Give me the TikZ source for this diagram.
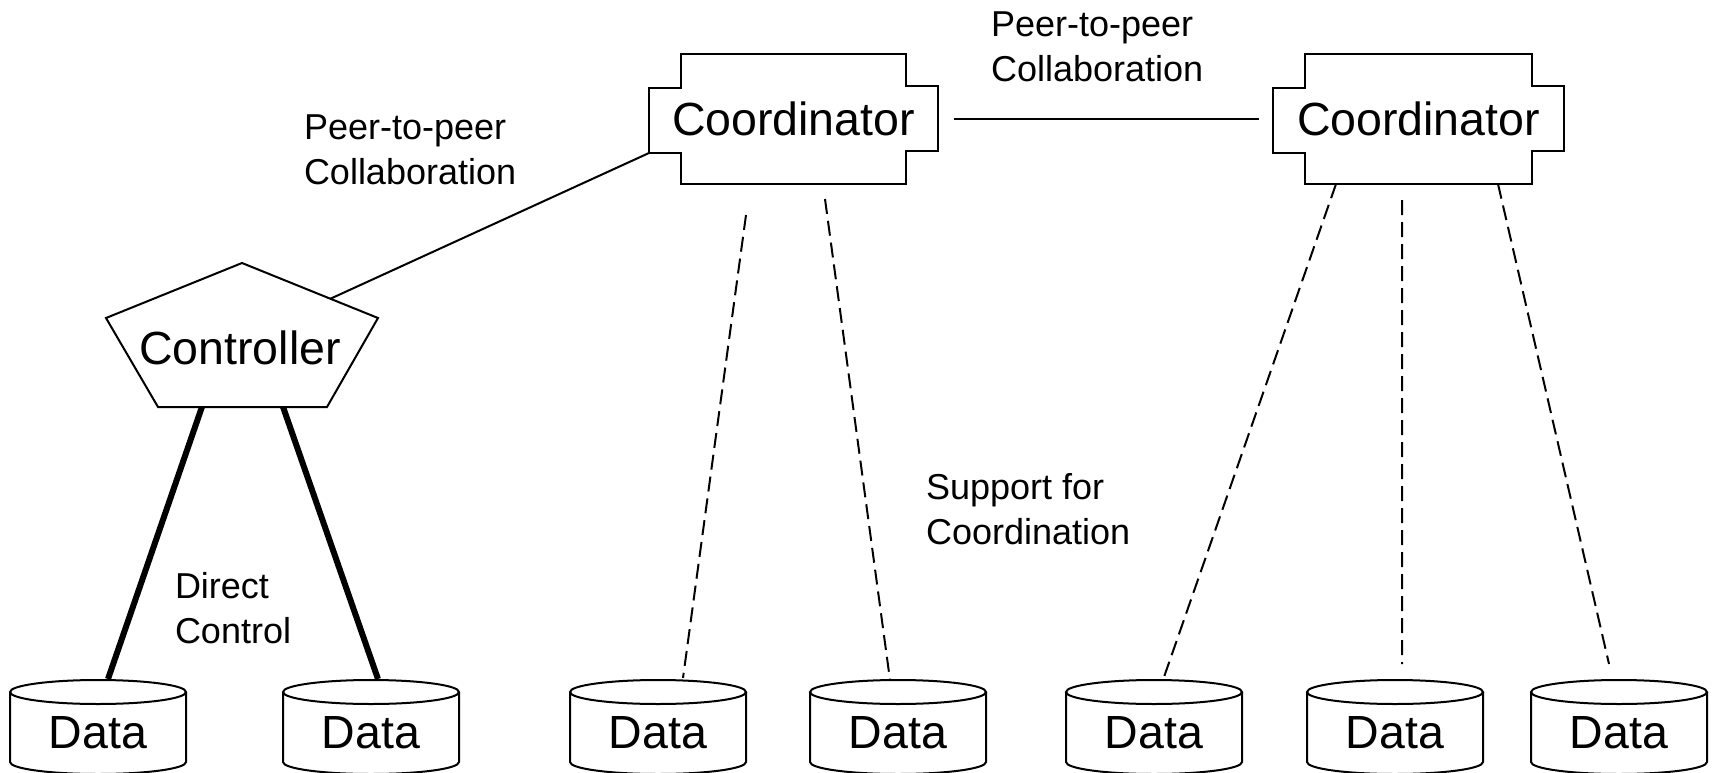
\documentclass[tikz,border=0pt]{standalone}
\usepackage{fontspec}
\setmainfont{Liberation Sans}
\usetikzlibrary{calc}

\begin{document}
\begin{tikzpicture}[x=1bp,y=-1bp,line width=2bp,
  big/.style={inner sep=0pt,font=\fontsize{46.5bp}{50bp}\selectfont},
  note/.style={inner sep=0pt,anchor=north west,align=left,font=\fontsize{36bp}{45bp}\selectfont},
  coordbox/.style={big,minimum width=287bp,minimum height=128bp},
  coordlink/.style={dash pattern=on 15bp off 7bp},
  ctrllink/.style={line width=6bp}]

\useasboundingbox (0,0) rectangle (1713,773);

\node[coordbox] (cA) at (793.5,119) {Coordinator};
\node[coordbox,minimum width=289bp] (cB) at (1418.5,119) {Coordinator};
\foreach \n in {cA,cB}
  \draw ([shift={(32,0)}]\n.north west) -- ([shift={(-32,0)}]\n.north east) -- ++(0,32) -- ++(32,0)
    -- ++(0,65) -- ++(-32,0) -- ([shift={(-32,0)}]\n.south east) -- ([shift={(32,0)}]\n.south west)
    -- ++(0,-31) -- ++(-32,0) coordinate (\n-corner) -- ++(0,-65) -- ++(32,0) -- cycle;

\coordinate (pT) at (242,263);
\coordinate (pR) at (378,318);
\coordinate (pBR) at (327,407);
\coordinate (pBL) at (158,407);
\coordinate (pL) at (106,318);
\draw (pT) -- (pR) -- (pBR) -- (pBL) -- (pL) -- cycle;
\node[big] (ctrl) at (240,348) {Controller};

\foreach \x/\n in {98/dA,371/dB,658/dC,898/dD,1154/dE,1395/dF,1619/dG}{
  \draw (\x-88,692) -- (\x-88,762) arc[start angle=180,end angle=0,x radius=88,y radius=12] -- (\x+88,692);
  \draw (\x,692) ellipse[x radius=88,y radius=12];
  \node[big] (\n) at (\x,733) {Data};
  \coordinate (\n-top) at (\x,680);
}

\draw (cA-corner) -- ($(pT)!0.65!(pR)$);
\draw[shorten <=16bp,shorten >=14bp] (cA.east) -- (cB.west);

\draw[ctrllink] ($(pBL)!0.26!(pBR)$) -- ([shift={(10,-1)}]dA-top);
\draw[ctrllink] ($(pBL)!0.74!(pBR)$) -- ([shift={(7,-1)}]dB-top);

\draw[coordlink] ([shift={(97,31)}]cA.south west) -- ([shift={(25,-2)}]dC-top);
\draw[coordlink] ([shift={(176,15)}]cA.south west) -- ([shift={(-8,0)}]dD-top);
\draw[coordlink] ([shift={(63,0)}]cB.south west) -- ([shift={(10,-3)}]dE-top);
\draw[coordlink] ([shift={(129,16)}]cB.south west) -- ([shift={(7,-16)}]dF-top);
\draw[coordlink] ([shift={(225,0)}]cB.south west) -- ([shift={(-10,-16)}]dG-top);

\node[note] (peerA) at (303,114) {Peer-to-peer\\Collaboration};
\node[note] (peerB) at (990,11) {Peer-to-peer\\Collaboration};
\node[note] (support) at (925,472) {Support for\\Coordination};
\node[note] (direct) at (174,571) {Direct\\Control};

\end{tikzpicture}
\end{document}
